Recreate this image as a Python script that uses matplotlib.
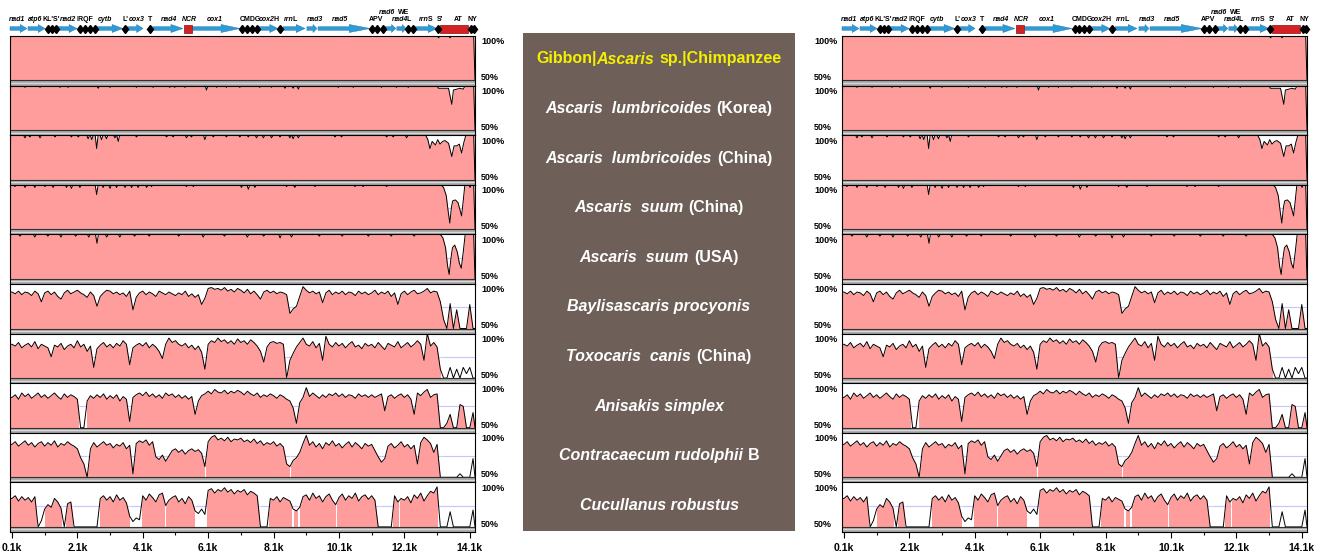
import matplotlib
matplotlib.use("Agg")
import numpy as np
import matplotlib.pyplot as plt
from matplotlib.patches import Polygon, Rectangle
from matplotlib.transforms import offset_copy

plt.rcParams['font.family'] = ['Liberation Sans', 'DejaVu Sans']

W, H = 1332, 552
X0, X1 = 0.04, 14.26          # kb shown in each panel
PANELS = [10, 842]            # left edge of the panels, px
PW = 465                      # panel width, px
TOP0, PITCH, AREA = 36, 49.6, 44.5
YB = 50 - (PITCH - AREA) / AREA * 50
PINK = '#FF9C9C'
LAV = '#C6C6FF'
LEVEL = 74

# ---------------- data ----------------
species = [
    [("Gibbon|", 0), ("Ascaris", 1), ("sp.|Chimpanzee", 0)],
    [("Ascaris  lumbricoides", 1), ("(Korea)", 0)],
    [("Ascaris  lumbricoides", 1), ("(China)", 0)],
    [("Ascaris  suum", 1), ("(China)", 0)],
    [("Ascaris  suum", 1), ("(USA)", 0)],
    [("Baylisascaris procyonis", 1)],
    [("Toxocaris  canis", 1), ("(China)", 0)],
    [("Anisakis simplex", 1)],
    [("Contracaecum rudolphii", 1), ("B", 0)],
    [("Cucullanus robustus", 1)],
]

tick_pos = [0.1, 2.1, 4.1, 6.1, 8.1, 10.1, 12.1, 14.1]
tick_labels = ['0.1k', '2.1k', '4.1k', '6.1k', '8.1k', '10.1k', '12.1k', '14.1k']
minor_pos = [1.1, 3.1, 5.1, 7.1, 9.1, 11.1, 13.1]

# genome map
gene_start = [0.04, 0.59, 1.48, 2.67, 3.62, 4.41, 5.63, 7.62, 8.39, 9.12, 9.46, 11.51, 11.87, 12.42]
gene_end = [0.56, 1.11, 2.09, 3.49, 4.11, 5.33, 7.07, 8.23, 9.06, 9.43, 11.05, 11.84, 12.15, 13.10]
trna_start = [1.20, 2.18, 3.56, 4.32, 7.15, 8.30, 11.10, 12.20, 13.13, 14.14]
trna_end = [1.45, 2.64, 3.56, 4.32, 7.58, 8.30, 11.45, 12.37, 13.13, 14.24]
trna_count = [3, 4, 1, 1, 4, 1, 3, 2, 1, 2]
nc_start = [5.36, 13.19]
nc_end = [5.60, 14.04]

gene_labels = [
    [("nad1", 1)], [("atp6", 1)], [("KL'S'", 0)], [("nad2", 1)], [("IRQF", 0)],
    [("cytb", 1)], [("L'", 0)], [("cox3", 1)], [("T", 0)], [("nad4", 1)],
    [("NCR", 1)], [("cox1", 1)], [("CMDG", 0)], [("cox2", 1)], [("H", 0)],
    [("rrn", 1), ("L", 0)], [("nad3", 1)], [("nad5", 1)], [("APV", 0)],
    [("nad6", 1)], [("nad4", 1), ("L", 0)], [("WE", 0)], [("rrn", 1), ("S", 0)],
    [("S'", 0)], [("AT", 0)], [("NY", 0)],
]
label_x = [0.24, 0.80, 1.29, 1.80, 2.33, 2.94, 3.57, 3.91, 4.32, 4.89, 5.53, 6.31,
           7.38, 7.88, 8.19, 8.60, 9.37, 10.12, 11.23, 11.58, 12.00, 12.09, 12.75,
           13.19, 13.74, 14.17]
label_row = [0] * 19 + [1, 0, 1, 0, 0, 0, 0]

# near-identical tracks: notch positions (kb) and values (%), plus tail profile
ref_notch_pos = [13.15, 13.5]
ref_notch_val = [98, 98]

kor_notch_pos = [0.50, 0.96, 1.57, 1.82, 2.74, 3.10, 3.91, 4.42, 4.93, 5.08, 5.39, 6.05,
                 6.36, 6.66, 7.07, 7.68, 8.04, 8.45, 8.70, 8.86, 10.08, 10.54, 11.40,
                 11.86, 12.22]
kor_notch_val = [98, 98, 98, 98, 97, 98, 98, 98, 98, 98, 98, 95, 98, 98, 98, 98, 98, 97,
                 97, 96, 98, 98, 98, 98, 98]
kor_tail_x = [13.10, 13.14, 13.30, 13.45, 13.50, 13.55, 13.60, 13.70, 13.80, 13.90, 13.96]
kor_tail_y = [100, 97, 97, 97, 88, 79, 95, 96, 97, 96, 100]

lch_notch_pos = [0.50, 0.65, 0.96, 1.42, 1.92, 2.13, 2.43, 2.54, 2.69, 2.84, 2.99, 3.25,
                 3.35, 3.91, 4.83, 5.03, 5.44, 5.59, 6.00, 6.26, 6.66, 7.07, 7.33, 7.58,
                 7.79, 8.04, 8.30, 8.60, 8.70, 8.86, 9.98, 10.18, 11.56, 11.76, 12.17]
lch_notch_val = [97, 98, 97, 98, 98, 98, 96, 95, 85, 95, 96, 97, 93, 98, 98, 98, 97, 98,
                 95, 98, 98, 98, 98, 97, 97, 97, 98, 97, 96, 97, 98, 98, 98, 98, 97]
lch_tail_x = [12.75, 12.82, 12.88, 12.95, 13.05, 13.12, 13.19, 13.27, 13.34, 13.45, 13.55,
              13.62, 13.70, 13.78, 13.85, 13.92, 13.98]
lch_tail_y = [100, 95, 85, 93, 89, 95, 90, 93, 94, 91, 76, 88, 88, 90, 80, 92, 100]

sch_notch_pos = [0.19, 0.50, 0.80, 1.11, 1.36, 1.77, 1.92, 2.18, 2.69, 2.89, 3.10, 3.30,
                 3.56, 3.76, 3.96, 4.22, 4.37, 5.44, 5.65, 7.12, 7.33, 7.53, 8.50, 8.75,
                 9.37, 10.59, 10.84, 11.56]
sch_notch_val = [98, 97, 97, 98, 97, 97, 96, 97, 89, 97, 96, 97, 97, 97, 97, 97, 98, 98,
                 98, 97, 95, 97, 98, 97, 98, 98, 98, 98]
sch_tail_x = [13.22, 13.30, 13.38, 13.44, 13.49, 13.54, 13.58, 13.66, 13.74, 13.80, 13.85,
              13.90, 13.95, 14.08, 14.11, 14.14]
sch_tail_y = [100, 97, 88, 70, 57, 75, 82, 83, 80, 72, 65, 82, 100, 100, 97, 100]

usa_notch_pos = [0.35, 0.80, 1.20, 1.60, 2.05, 2.45, 2.70, 3.00, 3.40, 3.85, 4.30, 5.20,
                 5.95, 6.60, 7.30, 7.80, 8.30, 8.65, 9.50, 10.20, 11.00, 11.70, 12.40]
usa_notch_val = [98, 97, 98, 97, 98, 97, 90, 97, 97, 98, 98, 98, 97, 98, 97, 98, 96, 97,
                 98, 98, 98, 98, 98]
usa_tail_x = [13.20, 13.28, 13.36, 13.42, 13.47, 13.52, 13.57, 13.64, 13.72, 13.78, 13.84,
              13.90, 13.96]
usa_tail_y = [100, 96, 85, 65, 55, 72, 85, 88, 80, 68, 62, 80, 100]

# divergent tracks: identity (%) every 0.1 kb from 0.1k to 14.2k
POS = np.round(np.arange(1, 143) * 0.1, 1)

bay_vals = [
    91, 89, 92, 88, 91, 90, 87, 92, 89, 80,
    90, 92, 88, 91, 86, 83, 90, 93, 89, 91,
    93, 90, 88, 85, 91, 87, 75, 86, 90, 93,
    92, 89, 91, 88, 90, 86, 92, 71, 85, 90,
    92, 88, 91, 89, 86, 92, 90, 88, 91, 89,
    87, 90, 88, 92, 86, 89, 85, 88, 77, 84,
    95, 96, 94, 95, 93, 96, 92, 94, 91, 95,
    93, 90, 94, 89, 92, 88, 83, 91, 93, 90,
    92, 89, 91, 90, 88, 67, 72, 75, 86, 97,
    93, 90, 92, 89, 91, 79, 90, 93, 88, 91,
    89, 92, 88, 91, 90, 87, 92, 89, 91, 88,
    90, 93, 88, 91, 89, 92, 86, 90, 77, 89,
    92, 88, 91, 93, 89, 90, 92, 95, 90, 92,
    91, 80, 60, 50, 78, 50, 71, 50, 50, 50, 77, 50]
bay_gaps = []

tox_vals = [
    88, 86, 90, 84, 87, 89, 85, 91, 83, 88,
    86, 84, 74, 87, 85, 89, 82, 86, 88, 84,
    92, 85, 88, 80, 86, 62, 83, 87, 90, 85,
    88, 84, 89, 86, 92, 88, 65, 84, 87, 89,
    86, 90, 84, 88, 85, 80, 72, 88, 95, 90,
    92, 88, 86, 89, 84, 87, 82, 86, 79, 60,
    88, 92, 90, 95, 91, 93, 89, 92, 88, 94,
    90, 92, 88, 93, 90, 86, 80, 68, 85, 90,
    91, 89, 90, 88, 50, 70, 78, 85, 90, 95,
    88, 86, 91, 84, 89, 70, 97, 88, 85, 90,
    86, 89, 84, 88, 91, 85, 87, 83, 89, 86,
    88, 84, 90, 86, 82, 89, 87, 85, 91, 84,
    87, 90, 85, 88, 92, 88, 70, 100, 86, 90,
    85, 60, 50, 50, 62, 50, 60, 50, 62, 55, 62, 50]
tox_gaps = [(8.47, 8.53), (13.22, X1)]

ani_vals = [
    84, 87, 82, 89, 85, 88, 83, 86, 89, 84,
    87, 83, 86, 89, 85, 82, 88, 84, 87, 85,
    82, 50, 50, 80, 86, 83, 87, 84, 88, 82,
    86, 83, 87, 80, 85, 82, 57, 84, 87, 89,
    86, 90, 85, 88, 84, 87, 83, 89, 86, 88,
    84, 87, 83, 86, 82, 85, 65, 80, 86, 88,
    91, 88, 93, 90, 89, 92, 88, 91, 89, 92,
    90, 87, 91, 88, 86, 89, 84, 87, 85, 88,
    86, 83, 87, 85, 82, 80, 72, 55, 78, 84,
    95, 85, 89, 86, 83, 87, 84, 88, 86, 89,
    85, 88, 84, 87, 86, 83, 88, 85, 87, 84,
    87, 84, 86, 88, 69, 85, 87, 83, 86, 88,
    84, 87, 82, 65, 89, 86, 90, 93, 84, 87,
    88, 50, 50, 55, 65, 50, 50, 76, 74, 50, 50, 67]
ani_gaps = [(2.15, 2.38)]

con_vals = [
    87, 90, 85, 88, 91, 86, 89, 84, 88, 90,
    85, 89, 86, 91, 84, 88, 86, 90, 87, 85,
    82, 72, 65, 50, 82, 89, 84, 87, 90, 86,
    88, 83, 87, 85, 89, 82, 86, 54, 88, 91,
    89, 92, 86, 90, 73, 70, 75, 68, 74, 80,
    82, 78, 81, 76, 80, 82, 79, 81, 77, 62,
    90, 95, 97, 92, 94, 91, 95, 90, 93, 92,
    94, 90, 92, 89, 93, 88, 91, 86, 89, 87,
    90, 85, 88, 84, 65, 62, 69, 72, 78, 88,
    97, 86, 90, 84, 88, 82, 89, 86, 91, 85,
    88, 83, 87, 90, 84, 89, 86, 82, 88, 85,
    87, 80, 73, 67, 71, 85, 88, 83, 86, 90,
    84, 87, 82, 86, 65, 89, 95, 92, 88, 78,
    87, 50, 50, 50, 50, 50, 50, 54, 50, 50, 50, 71]
con_gaps = [(2.38, 2.42), (5.99, 6.02), (8.60, 8.63), (13.22, X1)]

cuc_vals = [
    82, 85, 79, 84, 80, 83, 78, 84, 50, 57,
    70, 75, 72, 82, 78, 71, 50, 76, 78, 50,
    50, 50, 50, 50, 50, 50, 50, 82, 85, 80,
    84, 78, 86, 80, 83, 77, 62, 56, 60, 58,
    85, 80, 87, 83, 78, 86, 88, 74, 80, 83,
    85, 78, 82, 76, 84, 80, 68, 65, 70, 64,
    91, 93, 88, 92, 90, 94, 89, 92, 87, 91,
    89, 92, 86, 90, 88, 85, 50, 50, 50, 82,
    80, 84, 78, 83, 81, 79, 70, 68, 72, 84,
    86, 80, 88, 82, 85, 78, 84, 87, 80, 75,
    83, 87, 80, 85, 82, 88, 79, 84, 86, 81,
    85, 80, 50, 50, 50, 50, 50, 85, 78, 82,
    80, 84, 77, 86, 82, 88, 79, 85, 90, 88,
    95, 50, 50, 50, 67, 50, 50, 50, 50, 50, 50, 69]
cuc_gaps = [(0.86, 1.10), (1.62, 1.76), (1.98, 2.79), (3.71, 4.07), (4.77, 4.80),
            (5.70, 6.06), (7.70, 7.97), (8.67, 8.71), (8.86, 8.90), (10.01, 10.04),
            (11.32, 11.76), (11.95, 11.98), (13.12, X1)]


def notch_profile(pos, val, tail_x=(), tail_y=(), w=0.045):
    pts = [(X0, 50), (X0 + 0.02, 100)]
    for p, v in zip(pos, val):
        pts += [(p - w, 100), (p, v), (p + w, 100)]
    pts += list(zip(tail_x, tail_y))
    pts += [(X1 - 0.04, 100), (X1, 50)]
    pts.sort()
    x, y = zip(*pts)
    return np.array(x), np.array(y)


def grid_profile(vals):
    x = np.concatenate([[X0], POS, [X1]])
    y = np.concatenate([[vals[0]], vals, [50]])
    return x, y


tracks = [
    notch_profile(ref_notch_pos, ref_notch_val) + ([],),
    notch_profile(kor_notch_pos, kor_notch_val, kor_tail_x, kor_tail_y) + ([],),
    notch_profile(lch_notch_pos, lch_notch_val, lch_tail_x, lch_tail_y) + ([],),
    notch_profile(sch_notch_pos, sch_notch_val, sch_tail_x, sch_tail_y) + ([],),
    notch_profile(usa_notch_pos, usa_notch_val, usa_tail_x, usa_tail_y) + ([],),
    grid_profile(bay_vals) + (bay_gaps,),
    grid_profile(tox_vals) + (tox_gaps,),
    grid_profile(ani_vals) + (ani_gaps,),
    grid_profile(con_vals) + (con_gaps,),
    grid_profile(cuc_vals) + (cuc_gaps,),
]

fig = plt.figure(figsize=(W / 100, H / 100), dpi=100)
renderer = fig.canvas.get_renderer()


def rich_text(x, y, pieces, size, color, base, gap=0):
    parts = []
    for s, it in pieces:
        t = fig.text(x, y, s, transform=base, fontsize=size, fontweight='bold',
                     fontstyle='italic' if it else 'normal', color=color,
                     ha='left', va='baseline')
        parts.append((t, t.get_window_extent(renderer).width))
    gaps = [0] + [0 if parts[i][0].get_text().endswith('|') else gap
                  for i in range(len(parts) - 1)]
    pos = -(sum(w for _, w in parts) + sum(gaps)) / 2
    for (t, w), g in zip(parts, gaps):
        pos += g
        t.set_transform(offset_copy(base, fig=fig, x=pos, y=0, units='dots'))
        pos += w


def draw_track(ax, x, y, gaps):
    ax.axhline(LEVEL, color=LAV, lw=0.8, zorder=1)
    ax.fill_between(x, 50, y, color=PINK, lw=0, zorder=2)
    for g0, g1 in gaps:
        ax.fill_between([g0, g1], 50, 100, color='white', lw=0, zorder=3)
        ax.hlines(LEVEL, g0, g1, color=LAV, lw=0.8, zorder=3.5)
    ax.plot(x, y, color='black', lw=0.7, zorder=4)
    ax.axhspan(YB, 50, color='#A8A8A8', lw=0, zorder=5)
    ax.axhline((YB + 50) / 2, color='#D8D8D8', lw=0.9, zorder=6)
    ax.axhline(50, color='#303030', lw=0.8, zorder=6)


for pi, left in enumerate(PANELS):
    # genome map
    ann = fig.add_axes([left / W, 1 - 36 / H, PW / W, 32 / H])
    ann.set_xlim(X0, X1)
    ann.set_ylim(36, 4)
    ann.axis('off')
    ya = 28.5
    for s, e in zip(gene_start, gene_end):
        hl = 0.4 * (e - s)
        verts = [(s, ya - 1.8), (e - hl, ya - 1.8), (e - hl, ya - 4), (e, ya),
                 (e - hl, ya + 4), (e - hl, ya + 1.8), (s, ya + 1.8)]
        ann.add_patch(Polygon(verts, closed=True, fc='#2E9BD6', ec='#1E6FA5',
                              lw=0.3, clip_on=False))
    for s, e, n in zip(trna_start, trna_end, trna_count):
        xs = np.linspace(s, e, n)
        if n > 1:
            ann.plot([s, e], [ya, ya], color='black', lw=1, clip_on=False)
        ann.plot(xs, [ya] * n, 'd', color='black', ms=4.5, clip_on=False)
    for s, e in zip(nc_start, nc_end):
        ann.add_patch(Rectangle((s, ya - 4), e - s, 8, fc='#D42222', ec='#8A1010',
                                lw=0.5, clip_on=False))
    for pieces, lx, row in zip(gene_labels, label_x, label_row):
        rich_text(lx, (18.5 if row == 0 else 11.5) + 2.5, pieces, 5, 'black',
                  ann.transData, gap=-1.2)

    # identity tracks
    for k, (x, y, gaps) in enumerate(tracks):
        top = TOP0 + PITCH * k
        ax = fig.add_axes([left / W, 1 - (top + PITCH) / H, PW / W, PITCH / H])
        ax.set_xlim(X0, X1)
        ax.set_ylim(YB, 100)
        draw_track(ax, x, y, gaps)
        for sp in ax.spines.values():
            sp.set_color('black')
            sp.set_linewidth(0.8)
            sp.set_zorder(7)
        ax.set_yticks([])
        if k == len(tracks) - 1:
            ax.set_xticks(tick_pos)
            ax.set_xticklabels(tick_labels, fontsize=7.5, fontweight='bold')
            ax.set_xticks(minor_pos, minor=True)
            ax.tick_params(axis='x', which='major', length=4, width=0.8, pad=4)
            ax.tick_params(axis='x', which='minor', length=2.5, width=0.8)
        else:
            ax.set_xticks([])
        lx = (481 if pi == 0 else 814) / W
        fig.text(lx, 1 - (top + 1.5) / H, '100%', fontsize=6.5, fontweight='bold',
                 ha='left', va='top')
        fig.text(lx, 1 - (top + AREA) / H, '50%', fontsize=6.5, fontweight='bold',
                 ha='left', va='baseline')

# species box
fig.patches.append(Rectangle((523 / W, 1 - 531 / H), 272 / W, 498 / H,
                             transform=fig.transFigure, fc='#6E6059', ec='none'))
for k, pieces in enumerate(species):
    yc = TOP0 + PITCH * k + 22 + 5.5
    rich_text(659 / W, 1 - yc / H, pieces, 11.5, '#F5F000' if k == 0 else 'white',
              fig.transFigure, gap=5)

fig.savefig('out.png', dpi=100, facecolor='white')
